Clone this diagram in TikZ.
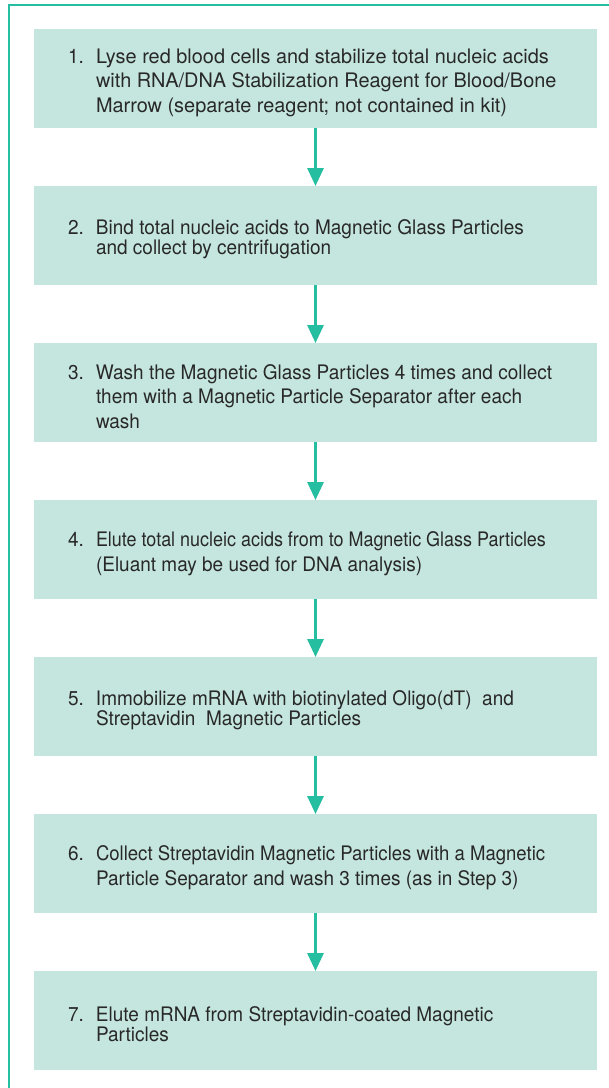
\documentclass[tikz,border=0pt]{standalone}
\usepackage{fontspec}
\setmainfont{TeX Gyre Heros}[FakeStretch=0.95]
\usetikzlibrary{arrows.meta}
\definecolor{teal1}{RGB}{38,190,160}
\definecolor{boxfill}{RGB}{197,230,223}
\definecolor{txt}{RGB}{40,40,40}
\newcommand{\steptext}[3]{\raisebox{0pt}[\dimexpr\height+8pt\relax][\depth]{\parbox{495pt}{\fontsize{20pt}{#1}\selectfont\color{txt}\hangindent=28pt\hangafter=1\noindent\makebox[28pt][l]{#2}#3}}}
\newcommand{\wideline}[1]{\scalebox{1.048}[1]{#1}}
\tikzset{
  stepbox/.style={fill=boxfill, draw=none, minimum width=563pt, minimum height=98.5pt, inner sep=0pt},
  flowarrow/.style={draw=teal1, line width=3pt, -{Triangle[length=18pt,width=16pt]}},
  frameline/.style={draw=teal1, line width=2pt}
}
\begin{document}
\begin{tikzpicture}[x=1pt,y=-1pt]
\useasboundingbox (0,0) rectangle (609,1088);
\coordinate (ftop) at (609,5);
\coordinate (fcorner) at (9.3,5);
\coordinate (fbottom) at (9.3,1088);
\draw[frameline] (ftop) -- (fcorner) -- (fbottom);

\node[stepbox] (s1) at (315.5,78.5) {\steptext{24.5pt}{1.}{\wideline{Lyse red blood cells and stabilize total nucleic acids}\\\wideline{with RNA/DNA Stabilization Reagent for Blood/Bone}\\\wideline{Marrow (separate reagent; not contained in kit)}}};
\node[stepbox] (s2) at (315.5,235.5) {\steptext{20pt}{2.}{Bind total nucleic acids to Magnetic Glass Particles\\and collect by centrifugation}};
\node[stepbox] (s3) at (315.5,392.5) {\steptext{24.5pt}{3.}{Wash the Magnetic Glass Particles 4 times and collect\\them with a Magnetic Particle Separator after each\\wash}};
\node[stepbox] (s4) at (315.5,549.5) {\steptext{24.5pt}{4.}{\scalebox{0.945}[1]{Elute total nucleic acids from to Magnetic Glass Particles}\\(Eluant may be used for DNA analysis)}};
\node[stepbox] (s5) at (315.5,706.5) {\steptext{20pt}{5.}{Immobilize mRNA with biotinylated Oligo(dT)\ \ and\\Streptavidin\ \ Magnetic Particles}};
\node[stepbox] (s6) at (315.5,863.5) {\steptext{24.5pt}{6.}{\scalebox{0.976}[1]{Collect Streptavidin Magnetic Particles with a Magnetic}\\Particle Separator and wash 3 times (as in Step 3)}};
\node[stepbox] (s7) at (315.5,1020.5) {\steptext{20pt}{7.}{Elute mRNA from Streptavidin-coated Magnetic\\Particles}};

\foreach \a/\b in {s1/s2,s2/s3,s3/s4,s4/s5,s5/s6,s6/s7}{
  \draw[flowarrow] (\a.south) -- (\b.north);
}
\end{tikzpicture}
\end{document}
